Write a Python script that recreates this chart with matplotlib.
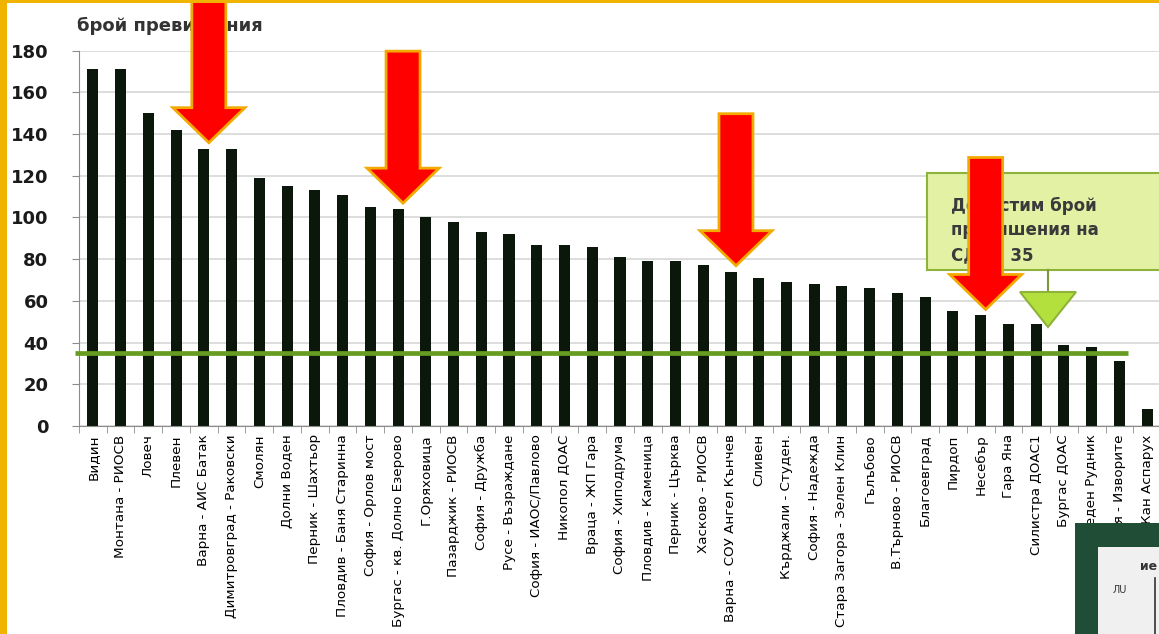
import numpy as np
import matplotlib
matplotlib.use("Agg")
import matplotlib.pyplot as plt
from matplotlib.patches import Polygon, Rectangle
from matplotlib.transforms import IdentityTransform

# ---------- Data ----------
stations = [
    "Видин", "Монтана - РИОСВ", "Ловеч", "Плевен", "Варна - АИС Батак",
    "Димитровград - Раковски", "Смолян", "Долни Воден", "Перник - Шахтьор",
    "Пловдив - Баня Старинна", "София - Орлов мост", "Бургас - кв. Долно Езерово",
    "Г.Оряховица", "Пазарджик - РИОСВ", "София - Дружба", "Русе - Възраждане",
    "София - ИАОС/Павлово", "Никопол ДОАС", "Враца - ЖП Гара", "София - Хиподрума",
    "Пловдив - Каменица", "Перник - Църква", "Хасково - РИОСВ",
    "Варна - СОУ Ангел Кънчев", "Сливен", "Кърджали - Студен.", "София - Надежда",
    "Стара Загора - Зелен Клин", "Гълъбово", "В.Търново - РИОСВ", "Благоевград",
    "Пирдоп", "Несебър", "Гара Яна", "Силистра ДОАС1", "Бургас ДОАС",
    "Бургас - Меден Рудник", "Девня - Изворите", "Кан Аспарух",
]
exceedances = [
    171, 171, 150, 142, 133, 133, 119, 115, 113, 111, 105, 104, 100, 98, 93,
    92, 87, 87, 86, 81, 79, 79, 77, 74, 71, 69, 68, 67, 66, 64, 62, 55, 53,
    49, 49, 39, 38, 31, 8,
]
limit = 35
highlighted = ["Варна - АИС Батак", "Бургас - кв. Долно Езерово",
               "Варна - СОУ Ангел Кънчев", "Несебър"]
y_title = "брой превишения"
callout_text = "Допустим брой\nпревишения на\nСДН - 35"

W, H = 1159, 634


def px(x, y):
    # pixel (from top-left) -> figure fraction
    return (x / W, 1 - y / H)


fig = plt.figure(figsize=(W / 100, H / 100), dpi=100)
fig.patch.set_facecolor("white")
ax = fig.add_axes([79 / W, (H - 426) / H, 1082 / W, (426 - 50.7) / H])

# ---------- Draw ----------
x = np.arange(len(stations))
ax.bar(x, exceedances, width=0.4, color="#0a170a", zorder=2)

ax.hlines(limit, -0.65, 37.3, color="#679c22", linewidth=3.4, zorder=3,
          clip_on=False)

# ---------- Style ----------
ax.set_xlim(-0.5, len(stations) - 0.5)
ax.set_ylim(0, 180)
ax.set_yticks(np.arange(0, 181, 20))
ax.set_xticks(x)
ax.set_xticklabels(stations, rotation=90, fontsize=9.7, color="black")
ax.set_xticks(np.arange(-0.5, len(stations), 1), minor=True)
ax.tick_params(axis="x", which="major", length=0, pad=6)
ax.tick_params(axis="x", which="minor", length=5, color="#8c8c8c")
ax.tick_params(axis="y", length=5, color="#8c8c8c", pad=17, labelsize=13,
               labelcolor="#1a1a1a")
for lab in ax.get_yticklabels():
    lab.set_fontweight("bold")

ax.yaxis.grid(True, color="#dadada", linewidth=1.3)
ax.set_axisbelow(True)
for s in ["top", "right"]:
    ax.spines[s].set_visible(False)
ax.spines["left"].set_color("#8c8c8c")
ax.spines["bottom"].set_color("#8c8c8c")

fig.text(*px(77, 26), y_title, fontsize=13, fontweight="bold",
         color="#333333", va="center", ha="left")

# ---------- Callout ----------
fig.add_artist(Rectangle(px(927, 270), (1170 - 927) / W, (270 - 173) / H,
                         transform=fig.transFigure, facecolor="#e3f1a4",
                         edgecolor="#8db33a", linewidth=1.5, zorder=4))
fig.text(*px(951, 197), callout_text, fontsize=12, fontweight="bold",
         color="#3a3a3a", va="top", ha="left", linespacing=1.45, zorder=5)
fig.add_artist(plt.Line2D([1048 / W, 1048 / W], [1 - 270 / H, 1 - 292 / H],
                          color="#7a9a3a", linewidth=1.5, zorder=4))
fig.add_artist(Polygon([px(1020, 292), px(1076, 292), px(1048, 327)],
                       closed=True, transform=fig.transFigure,
                       facecolor="#b4e03e", edgecolor="#8db33a",
                       linewidth=1.5, zorder=4))

# ---------- Red arrows ----------
fig.canvas.draw()
for name in highlighted:
    i = stations.index(name)
    tx, ty = ax.transData.transform((i, exceedances[i]))
    tx += 5
    ty += 6
    total, head, hw, sw = 152, 35, 36, 17
    verts = [
        (tx, ty), (tx - hw, ty + head), (tx - sw, ty + head),
        (tx - sw, ty + total), (tx + sw, ty + total),
        (tx + sw, ty + head), (tx + hw, ty + head),
    ]
    fig.add_artist(Polygon(verts, closed=True, transform=IdentityTransform(),
                           facecolor="#ff0000", edgecolor="#f2a900",
                           linewidth=2, zorder=6))

# ---------- Inset corner & border ----------
fig.add_artist(Rectangle(px(1075, 640), 100 / W, (640 - 523) / H,
                         transform=fig.transFigure, facecolor="#1f4d36",
                         edgecolor="none", zorder=7))
fig.add_artist(Rectangle(px(1098, 640), 80 / W, (640 - 547) / H,
                         transform=fig.transFigure, facecolor="#f0f0f0",
                         edgecolor="none", zorder=8))
fig.text(*px(1140, 566), "ие", fontsize=9, fontweight="bold",
         color="#333333", va="center", zorder=9)
fig.text(*px(1113, 590), "ЛU", fontsize=7, color="#333333", va="center",
         zorder=9)
fig.add_artist(plt.Line2D([1155 / W, 1155 / W], [1 - 578 / H, 0],
                          color="#333333", linewidth=1.2, zorder=9))

fig.add_artist(Rectangle((0, 0), 7 / W, 1, transform=fig.transFigure,
                         facecolor="#efb300", edgecolor="none", zorder=10))
fig.add_artist(Rectangle((0, 1 - 3 / H), 1, 3 / H, transform=fig.transFigure,
                         facecolor="#efb300", edgecolor="none", zorder=10))

fig.savefig("out.png", dpi=100)
